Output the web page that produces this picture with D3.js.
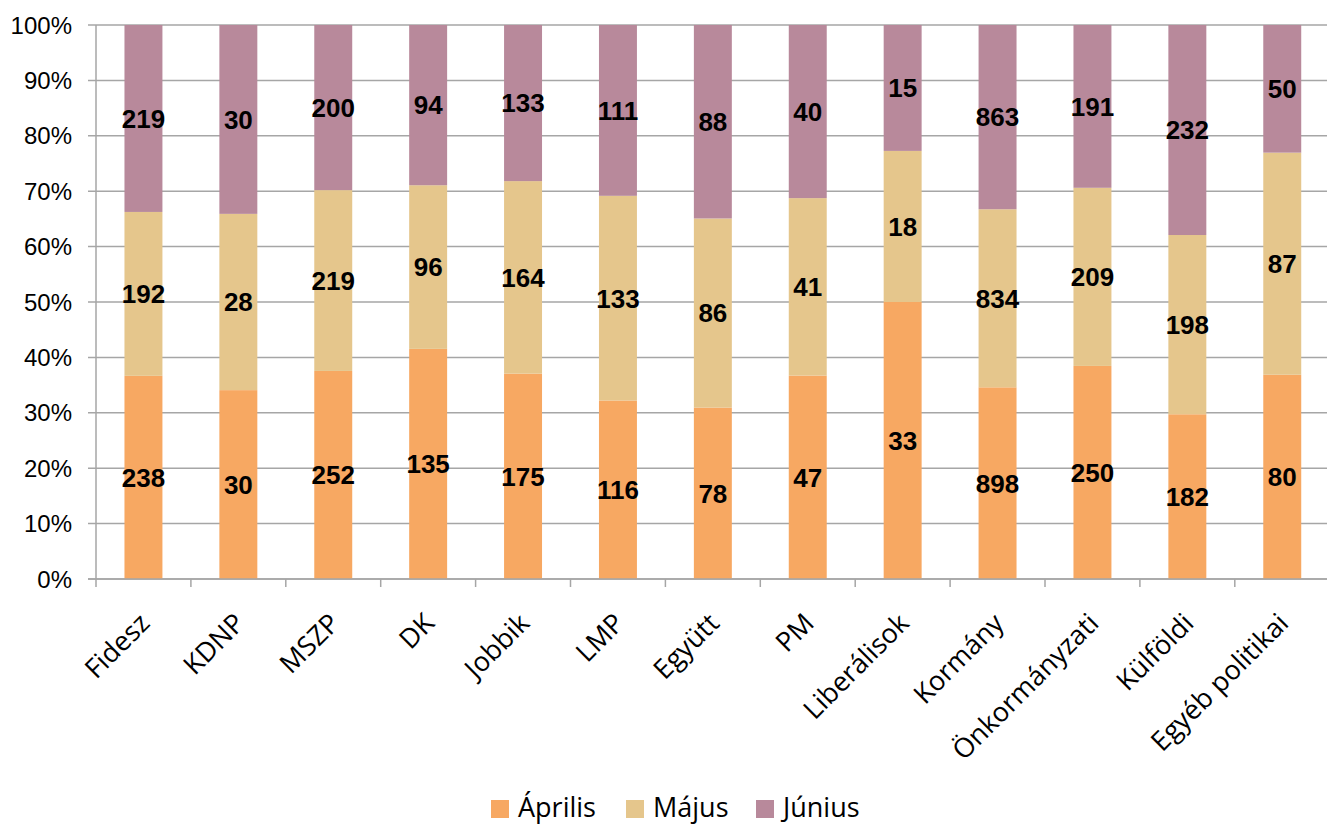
<!DOCTYPE html>
<html><head><meta charset="utf-8">
<script src="https://cdn.jsdelivr.net/npm/d3@7"></script>
<style>body{margin:0;background:#fff;overflow:hidden}svg{display:block}</style>
</head><body>
<svg id="c" width="1327" height="825"></svg>
<script>
const categories = ["Fidesz","KDNP","MSZP","DK","Jobbik","LMP","Együtt","PM","Liberálisok","Kormány","Önkormányzati","Külföldi","Egyéb politikai"];
const seriesNames = ["Április","Május","Június"];
const aprilis = [238,30,252,135,175,116,78,47,33,898,250,182,80];
const majus   = [192,28,219,96,164,133,86,41,18,834,209,198,87];
const junius  = [219,30,200,94,133,111,88,40,15,863,191,232,50];
const colors  = ["#F7A862","#E5C68C","#B8899B"];
const yTicks  = [0,0.1,0.2,0.3,0.4,0.5,0.6,0.7,0.8,0.9,1];

const svg = d3.select("#c");
const L=96, R=96+13*94.9, T=25, B=579;
const x = d3.scaleBand().domain(categories).range([L,R]).paddingInner(0.6).paddingOuter(0.3);
const y = d3.scaleLinear().domain([0,1]).range([B,T]);

// gridlines
svg.append("g").selectAll("line").data(yTicks).join("line")
  .attr("x1",L-8).attr("x2",R).attr("y1",d=>y(d)).attr("y2",d=>y(d))
  .attr("stroke","#a6a6a6").attr("stroke-width",1.5);

const rows = categories.map((c,i)=>({cat:c,"Április":aprilis[i],"Május":majus[i],"Június":junius[i]}));
const stack = d3.stack().keys(seriesNames).offset(d3.stackOffsetExpand);
const stacked = stack(rows);

const g = svg.append("g");
stacked.forEach((s,si)=>{
  g.append("g").selectAll("rect").data(s).join("rect")
    .attr("x",d=>x(d.data.cat)).attr("width",x.bandwidth())
    .attr("y",d=>y(d[1])).attr("height",d=>y(d[0])-y(d[1]))
    .attr("fill",colors[si]);
});
stacked.forEach((s,si)=>{
  g.append("g").selectAll("text").data(s).join("text")
    .attr("x",d=>x(d.data.cat)+x.bandwidth()/2)
    .attr("y",d=>y((d[0]+d[1])/2))
    .attr("dy","0.36em")
    .attr("text-anchor","middle")
    .attr("font-family","Liberation Sans, Arial, sans-serif")
    .attr("font-weight","bold").attr("font-size",26)
    .attr("fill","#000")
    .text(d=>d.data[s.key]);
});

// axes
svg.append("line").attr("x1",L).attr("x2",L).attr("y1",T).attr("y2",B).attr("stroke","#a6a6a6").attr("stroke-width",1.5);
svg.append("line").attr("x1",L-8).attr("x2",R).attr("y1",B).attr("y2",B).attr("stroke","#a6a6a6").attr("stroke-width",1.5);
const step = x.step();
svg.append("g").selectAll("line").data(d3.range(categories.length+1)).join("line")
  .attr("x1",i=>L+i*step).attr("x2",i=>L+i*step).attr("y1",B).attr("y2",B+8)
  .attr("stroke","#a6a6a6").attr("stroke-width",1.5);

svg.append("g").selectAll("text").data(yTicks).join("text")
  .attr("x",72).attr("y",d=>y(d)).attr("dy","0.36em")
  .attr("text-anchor","end").attr("font-family","Liberation Sans, Arial, sans-serif")
  .attr("font-size",24).attr("fill","#000")
  .text(d=>Math.round(d*100)+"%");

svg.append("g").selectAll("text").data(categories).join("text")
  .attr("transform",d=>`translate(${x(d)+x.bandwidth()/2+1},${B+39}) rotate(-45)`)
  .attr("text-anchor","end").attr("dy","0.36em")
  .attr("font-family","Open Sans, Noto Sans, sans-serif")
  .attr("font-size",27).attr("fill","#000")
  .text(d=>d);

// legend
const leg = svg.append("g");
const lx=[491,626,756];
seriesNames.forEach((n,i)=>{
  leg.append("rect").attr("x",lx[i]).attr("y",800).attr("width",18).attr("height",18).attr("fill",colors[i]);
  leg.append("text").attr("x",lx[i]+27).attr("y",817)
    .attr("font-family","Open Sans, Noto Sans, sans-serif").attr("font-size",27).attr("fill","#000").text(n);
});
</script>
</body></html>
